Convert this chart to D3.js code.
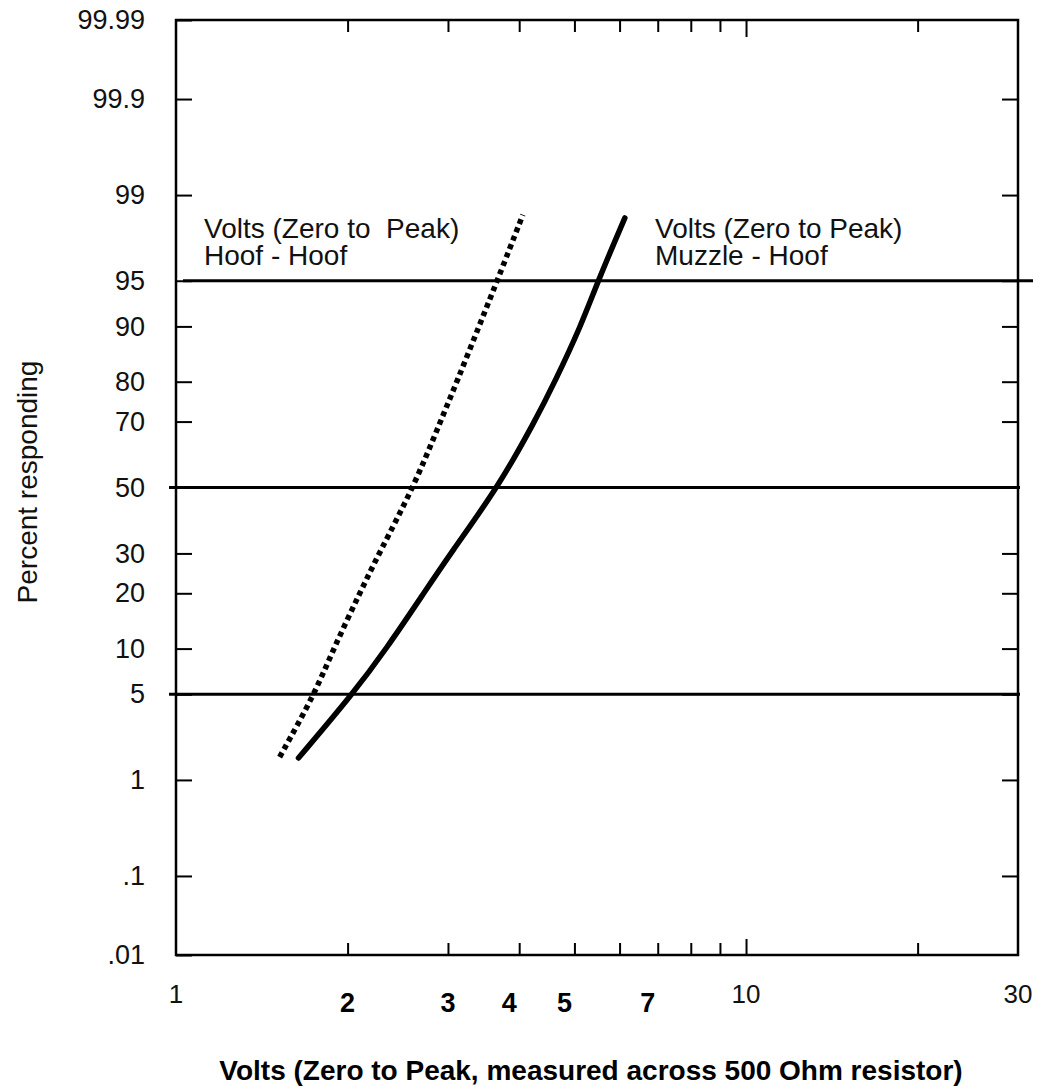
<!DOCTYPE html>
<html>
<head>
<meta charset="utf-8">
<script src="https://cdn.jsdelivr.net/npm/d3@7"></script>
<style>
  body { margin: 0; background: #fff; }
  svg { font-family: "Liberation Sans", Arial, sans-serif; }
</style>
</head>
<body>
<svg width="1047" height="1092"></svg>
<script>
// percent responding ticks on the probability axis
var yTickValues = [0.01, 0.1, 1, 5, 10, 20, 30, 50, 70, 80, 90, 95, 99, 99.9, 99.99];
var yTickLabels = [".01", ".1", "1", "5", "10", "20", "30", "50", "70", "80", "90", "95", "99", "99.9", "99.99"];

// volts ticks on the log axis
var xMinorTicks = [2, 3, 4, 5, 6, 7, 8, 9, 20];
var xMajorTicks = [10];
var xPlainLabels = [1, 10, 30];
var xBoldLabels = [2, 3, 4, 5, 7];

// reference lines (percent)
var refPercents = [5, 50, 95];

// Hoof - Hoof (dotted)
var hoofVolts = [1.52, 1.75, 1.89, 2.10, 2.27, 2.61, 2.91, 3.11, 3.40, 3.66, 4.06];
var hoofPct   = [1.6, 5, 10, 20, 30, 50, 70, 80, 90, 95, 98.5];

// Muzzle - Hoof (solid)
var muzzleVolts = [1.64, 2.04, 2.34, 2.72, 3.03, 3.67, 4.26, 4.62, 5.13, 5.50, 6.13];
var muzzlePct   = [1.57, 5, 10, 20, 30, 50, 70, 80, 90, 95, 98.4];

// inverse normal cdf (Acklam)
function probit(p) {
  var a = [-3.969683028665376e+01, 2.209460984245205e+02, -2.759285104469687e+02, 1.383577518672690e+02, -3.066479806614716e+01, 2.506628277459239e+00];
  var b = [-5.447609879822406e+01, 1.615858368580409e+02, -1.556989798598866e+02, 6.680131188771972e+01, -1.328068155288572e+01];
  var c = [-7.784894002430293e-03, -3.223964580411365e-01, -2.400758277161838e+00, -2.549732539343734e+00, 4.374664141464968e+00, 2.938163982698783e+00];
  var d = [7.784695709041462e-03, 3.224671290700398e-01, 2.445134137142996e+00, 3.754408661907416e+00];
  var pl = 0.02425, q, r;
  if (p < pl) {
    q = Math.sqrt(-2 * Math.log(p));
    return (((((c[0]*q+c[1])*q+c[2])*q+c[3])*q+c[4])*q+c[5]) / ((((d[0]*q+d[1])*q+d[2])*q+d[3])*q+1);
  }
  if (p > 1 - pl) {
    q = Math.sqrt(-2 * Math.log(1 - p));
    return -(((((c[0]*q+c[1])*q+c[2])*q+c[3])*q+c[4])*q+c[5]) / ((((d[0]*q+d[1])*q+d[2])*q+d[3])*q+1);
  }
  q = p - 0.5; r = q * q;
  return (((((a[0]*r+a[1])*r+a[2])*r+a[3])*r+a[4])*r+a[5])*q / (((((b[0]*r+b[1])*r+b[2])*r+b[3])*r+b[4])*r+1);
}

var svg = d3.select("svg");
var plotTop = 20, plotBottom = 955;

var x = d3.scaleLog().domain([1, 30]).range([176, 1018]);
var yz = d3.scaleLinear().domain([probit(0.0001), probit(0.9999)]).range([plotBottom, plotTop]);
function y(p) { return yz(probit(p / 100)); }

var fontSize = 28;

// left axis
var left = svg.append("g")
  .attr("transform", "translate(" + x(1) + ",0)")
  .call(d3.axisLeft(yz)
    .tickValues(yTickValues.map(function(d){ return probit(d / 100); }))
    .tickFormat(function(d, i){ return yTickLabels[i]; })
    .tickSize(-16).tickPadding(31));
left.select(".domain").remove();
left.selectAll("line").attr("stroke", "#000").attr("stroke-width", 2);
left.selectAll("text").attr("font-size", fontSize - 1).attr("fill", "#111")
  .style("font-family", "'Liberation Sans', Arial, sans-serif");

// right axis
var right = svg.append("g")
  .attr("transform", "translate(" + x(30) + ",0)")
  .call(d3.axisRight(yz)
    .tickValues(yTickValues.slice(1, -1).map(function(d){ return probit(d / 100); }))
    .tickFormat("").tickSize(-16));
right.select(".domain").remove();
right.selectAll("line").attr("stroke", "#000").attr("stroke-width", 2);

// bottom and top ticks
function xTicks(axisFn, ypos, values, size) {
  var g = svg.append("g")
    .attr("transform", "translate(0," + ypos + ")")
    .call(axisFn(x).tickValues(values).tickFormat("").tickSize(size));
  g.select(".domain").remove();
  g.selectAll("line").attr("stroke", "#000").attr("stroke-width", 2);
}
xTicks(d3.axisBottom, plotBottom, xMinorTicks, -12);
xTicks(d3.axisBottom, plotBottom, xMajorTicks, -16);
xTicks(d3.axisTop, plotTop, xMinorTicks, -12);
xTicks(d3.axisTop, plotTop, xMajorTicks, -17);

// frame
svg.append("rect")
  .attr("x", x(1)).attr("y", plotTop)
  .attr("width", x(30) - x(1)).attr("height", plotBottom - plotTop)
  .attr("fill", "none").attr("stroke", "#000").attr("stroke-width", 2.5);

// x labels
svg.selectAll(".xplain")
  .data(xPlainLabels)
  .enter().append("text")
  .attr("class", "xplain")
  .attr("x", function(d){ return x(d); })
  .attr("y", 1003)
  .attr("text-anchor", "middle")
  .attr("font-size", fontSize - 2)
  .attr("fill", "#111")
  .text(function(d){ return d; });

// the bold labels from 4 up sit a little left of their ticks in the original
svg.selectAll(".xbold")
  .data(xBoldLabels)
  .enter().append("text")
  .attr("class", "xbold")
  .attr("x", function(d){ return x(d); })
  .attr("dx", function(d){ return d >= 4 ? -10 : 0; })
  .attr("y", 1012)
  .attr("text-anchor", "middle")
  .attr("font-size", fontSize - 1)
  .attr("font-weight", "bold")
  .text(function(d){ return d; });

// axis titles
svg.append("text")
  .attr("x", 591).attr("y", 1080)
  .attr("text-anchor", "middle")
  .attr("font-size", fontSize)
  .attr("font-weight", "bold")
  .text("Volts (Zero to Peak, measured across 500 Ohm resistor)");

svg.append("text")
  .attr("transform", "translate(37,482) rotate(-90)")
  .attr("text-anchor", "middle")
  .attr("font-size", fontSize)
  .attr("fill", "#111")
  .text("Percent responding");

// reference lines
svg.selectAll(".ref")
  .data(refPercents)
  .enter().append("line")
  .attr("class", "ref")
  .attr("x1", function(d){ return d === 95 ? 183 : 169; })
  .attr("x2", function(d){ return d === 95 ? 1033 : 1020; })
  .attr("y1", function(d){ return y(d); })
  .attr("y2", function(d){ return y(d); })
  .attr("stroke", "#000").attr("stroke-width", 3);

// curves
var line = d3.line()
  .x(function(d){ return x(d.v); })
  .y(function(d){ return y(d.p); })
  .curve(d3.curveBasis);

var hoof = hoofVolts.map(function(v, i){ return {v: v, p: hoofPct[i]}; });
var muzzle = muzzleVolts.map(function(v, i){ return {v: v, p: muzzlePct[i]}; });

svg.append("path")
  .datum(hoof)
  .attr("d", line)
  .attr("fill", "none")
  .attr("stroke", "#000")
  .attr("stroke-width", 5.5)
  .attr("stroke-dasharray", "5,4");

svg.append("path")
  .datum(muzzle)
  .attr("d", line)
  .attr("fill", "none")
  .attr("stroke", "#000")
  .attr("stroke-width", 5.5)
  .attr("stroke-linecap", "round");

// annotations
var notes = [
  {x: 204, lines: ["Volts (Zero to\u00a0 Peak)", "Hoof - Hoof"]},
  {x: 655, lines: ["Volts (Zero to Peak)", "Muzzle - Hoof"]}
];
notes.forEach(function(n){
  n.lines.forEach(function(t, i){
    svg.append("text")
      .attr("x", n.x).attr("y", 238 + 27 * i)
      .attr("font-size", fontSize)
      .attr("fill", "#111")
      .text(t);
  });
});
</script>
</body>
</html>
